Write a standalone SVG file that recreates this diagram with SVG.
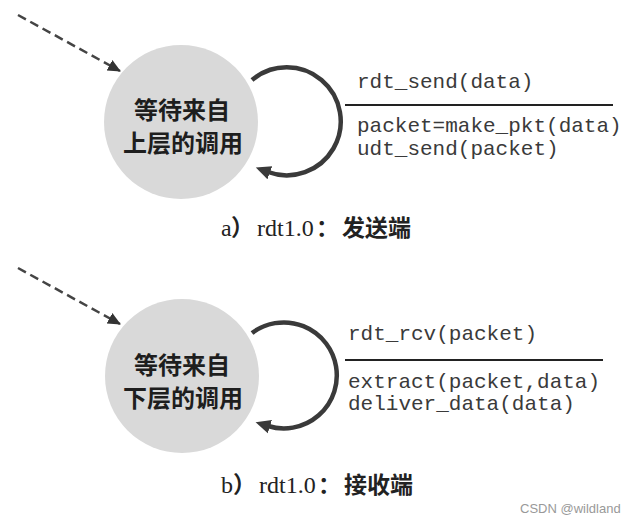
<svg xmlns="http://www.w3.org/2000/svg" width="635" height="521" viewBox="0 0 635 521">
<defs>
<style>
.state{fill:#d9d9d9;}
.cjk{font-family:"Noto Sans CJK SC","Noto Sans",sans-serif;font-weight:bold;font-size:24px;fill:#1e1e1e;text-anchor:middle;}
.mono{font-family:"Liberation Mono","DejaVu Sans Mono",monospace;font-size:21px;fill:#3a3a3a;}
.cap{font-family:"Liberation Serif","Noto Sans CJK SC",serif;font-size:24px;fill:#222;}
.capcjk{font-family:"Noto Sans CJK SC",sans-serif;font-size:23px;font-weight:bold;fill:#222;}
.loop{fill:none;stroke:#3a3a3a;stroke-width:4.5;}
.dash{fill:none;stroke:#444;stroke-width:2.5;stroke-dasharray:9 5;}
.rule{stroke:#222;stroke-width:2;}
.wm{font-family:"Liberation Sans","Noto Sans",sans-serif;font-size:13px;fill:#999;}
</style>
<marker id="ah" markerUnits="userSpaceOnUse" markerWidth="16" markerHeight="16" refX="2" refY="8" orient="auto">
<path d="M0,1 L15,8 L0,15 Z" fill="#3a3a3a"/>
</marker>
<marker id="dh" markerUnits="userSpaceOnUse" markerWidth="14" markerHeight="14" refX="12" refY="7" orient="auto">
<path d="M0,1 L13,7 L0,13 Z" fill="#333"/>
</marker>
</defs>
<rect width="635" height="521" fill="#fff"/>

<g id="sender-wait">
<circle class="state" cx="181" cy="122" r="77"/>
<text class="cjk" x="182" y="119">等待来自</text>
<text class="cjk" x="183" y="152">上层的调用</text>
</g>

<g id="receiver-wait">
<circle class="state" cx="182" cy="376" r="77"/>
<text class="cjk" x="182" y="374">等待来自</text>
<text class="cjk" x="183" y="407">下层的调用</text>
</g>

<g id="connectors">
<line class="dash" x1="18" y1="15" x2="120" y2="71" marker-end="url(#dh)"/>
<path class="loop" d="M252,80 A54,54 0 1 1 268,172" marker-end="url(#ah)"/>
<line class="dash" x1="18" y1="268" x2="120" y2="324" marker-end="url(#dh)"/>
<path class="loop" d="M252,333 A53,53 0 1 1 268,426" marker-end="url(#ah)"/>
</g>

<g id="sender-label">
<text class="mono" x="357" y="88">rdt_send(data)</text>
<line class="rule" x1="345" y1="105" x2="613" y2="105"/>
<text class="mono" x="357" y="132">packet=make_pkt(data)</text>
<text class="mono" x="357" y="155">udt_send(packet)</text>
</g>

<g id="receiver-label">
<text class="mono" x="348" y="340">rdt_rcv(packet)</text>
<line class="rule" x1="345" y1="360" x2="603" y2="360"/>
<text class="mono" x="348" y="388">extract(packet,data)</text>
<text class="mono" x="348" y="410">deliver_data(data)</text>
</g>

<g id="captions">
<text class="cap" x="221" y="236">a<tspan x="231" class="capcjk">）</tspan><tspan x="257">rdt1.0</tspan><tspan x="316" class="capcjk">：</tspan><tspan x="342" class="capcjk">发送端</tspan></text>
<text class="cap" x="221" y="493">b<tspan x="233" class="capcjk">）</tspan><tspan x="259">rdt1.0</tspan><tspan x="318" class="capcjk">：</tspan><tspan x="344" class="capcjk">接收端</tspan></text>
<text class="wm" x="520" y="513">CSDN @wildland</text>
</g>
</svg>
